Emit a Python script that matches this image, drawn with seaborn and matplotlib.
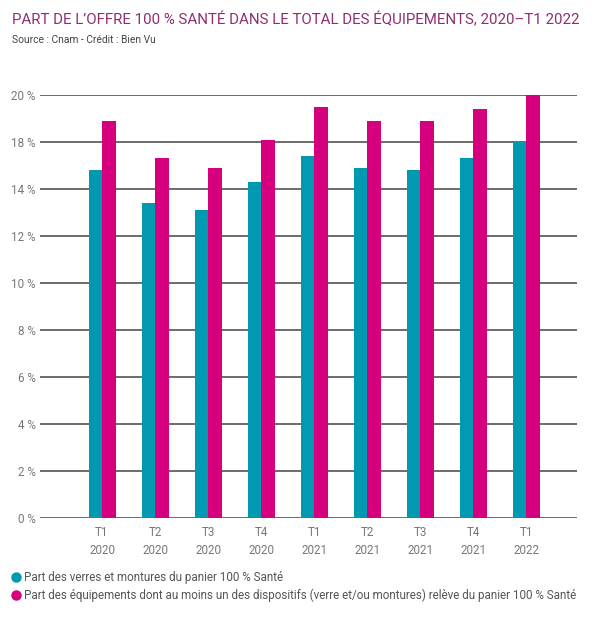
import matplotlib
matplotlib.use("Agg")
import matplotlib.pyplot as plt
import seaborn as sns
import pandas as pd
from matplotlib.lines import Line2D

categories = ["T1\n2020", "T2\n2020", "T3\n2020", "T4\n2020", "T1\n2021",
              "T2\n2021", "T3\n2021", "T4\n2021", "T1\n2022"]
serie_verres = [14.8, 13.4, 13.1, 14.3, 15.4, 14.9, 14.8, 15.3, 16.0]
serie_equip = [16.9, 15.3, 14.9, 16.1, 17.5, 16.9, 16.9, 17.4, 18.0]
series_names = ["Part des verres et montures du panier 100 % Santé",
                "Part des équipements dont au moins un des dispositifs (verre et/ou montures) relève du panier 100 % Santé"]
ytick_values = [0, 2, 4, 6, 8, 10, 12, 14, 16, 18]
ytick_labels = ["0 %", "2 %", "4 %", "6 %", "8 %", "10 %", "12 %", "14 %", "18 %", "20 %"]
title = "PART DE L\u2019OFFRE 100 % SANTÉ DANS LE TOTAL DES ÉQUIPEMENTS, 2020\u2013T1 2022"
subtitle = "Source : Cnam - Crédit : Bien Vu"

colors = ["#0099b1", "#d6007f"]

df = pd.DataFrame({
    "cat": categories * 2,
    "val": serie_verres + serie_equip,
    "serie": [series_names[0]] * len(categories) + [series_names[1]] * len(categories),
})

sns.set_theme(style="white")
plt.rcParams["font.family"] = ["Roboto", "DejaVu Sans"]

fig = plt.figure(figsize=(6.06, 6.18), dpi=100)
ax = fig.add_axes([40 / 606, 1 - 518 / 618, (577 - 40) / 606, (518 - 95) / 618])

sns.barplot(data=df, x="cat", y="val", hue="serie", palette=colors,
            width=0.51, saturation=1, ax=ax, legend=False, zorder=3,
            linewidth=0, edgecolor="none")

ax.set_ylim(0, 18)
ax.set_xlim(-1.17, 8.96)
ax.set_yticks(ytick_values)
ax.set_yticklabels(ytick_labels)
ax.yaxis.grid(True, color="#6b6b6b", linewidth=1.4, zorder=1)
ax.set_axisbelow(True)
for s in ax.spines.values():
    s.set_visible(False)
ax.tick_params(axis="both", length=0, colors="#777777", labelsize=8.4)
ax.tick_params(axis="y", pad=3)
ax.tick_params(axis="x", pad=6)
ax.set_xlabel("")
ax.set_ylabel("")
for lab in ax.get_xticklabels():
    lab.set_linespacing(1.5)

fig.text(12 / 606, 1 - 20 / 618, title, color="#8e2d72", fontsize=10.8, va="center", ha="left")
fig.text(12 / 606, 1 - 40 / 618, subtitle, color="#444444", fontsize=7.4, va="center", ha="left")

handles = [Line2D([0], [0], marker="o", linestyle="", markersize=6.5,
                  markerfacecolor=c, markeredgecolor=c) for c in colors]
leg = fig.legend(handles, series_names, loc="upper left",
                 bbox_to_anchor=(9 / 606, 1 - 571 / 618), frameon=False,
                 fontsize=8.4, handletextpad=0.1, labelspacing=0.4,
                 borderaxespad=0, handlelength=1.2, borderpad=0)
for t in leg.get_texts():
    t.set_color("#555555")

fig.savefig("out.png", dpi=100)
